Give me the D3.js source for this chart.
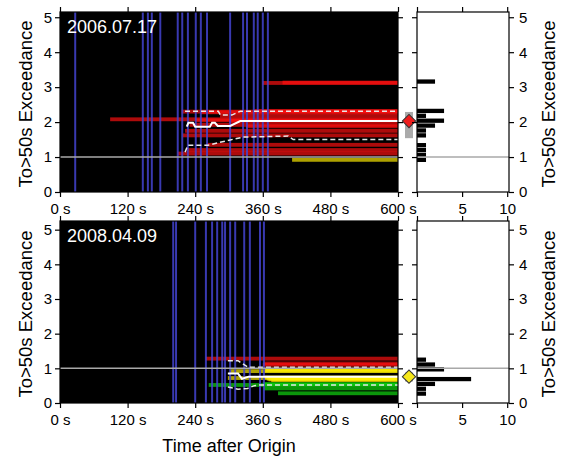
<!DOCTYPE html>
<html>
<head>
<meta charset="utf-8">
<script src="https://cdn.jsdelivr.net/npm/d3@7"></script>
<style>
body { margin: 0; background: #fff; }
</style>
</head>
<body>
<svg id="chart" width="563" height="459"></svg>
<script>
// ---- data ----
var timeTicks = [0, 120, 240, 360, 480, 600];
var valueTicks = [0, 1, 2, 3, 4, 5];
var countTicks = [0, 5, 10];
var binWidth = 0.14;
var threshold = 1;

// 2006.07.17
var dateTop = "2006.07.17";
var blueTop = [27, 147, 156, 163, 178, 209, 217, 227, 241, 250, 261, 302, 325, 332, 344, 351, 360, 369];
var startTop = [89, 209, 216, 218, 222, 225, 230, 240, 250, 262, 284, 300, 330, 345, 360, 395, 412];
var valueTop = [2.08, 1.10, 2.30, 1.62, 1.75, 1.20, 1.92, 2.05, 2.28, 1.35, 2.18, 2.03, 1.88, 2.32, 3.12, 3.13, 0.92];
var medTopT = [225, 228, 236, 240, 266, 270, 275, 280, 302, 320, 600];
var medTopV = [1.87, 1.98, 1.98, 1.87, 1.87, 1.98, 1.98, 1.89, 1.89, 2.03, 2.03];
var upTopT = [222, 281, 285, 305, 320, 600];
var upTopV = [2.31, 2.31, 2.20, 2.20, 2.31, 2.31];
var loTopT = [222, 227, 263, 302, 325, 405, 414, 600];
var loTopV = [1.14, 1.34, 1.34, 1.49, 1.57, 1.60, 1.50, 1.50];
var rangeTop = [1.54, 2.29];
var binStartTop = 0.85;

// 2008.04.09
var dateBottom = "2008.04.09";
var blueBottom = [201, 206, 240, 259, 270, 279, 288, 293, 302, 311, 327, 337, 355, 362];
var startBottom = [259, 360, 362, 302, 360, 365, 298, 367, 370, 362, 375, 380, 264, 360, 362, 387];
var valueBottom = [1.28, 1.10, 1.14, 0.92, 0.93, 0.96, 0.72, 0.70, 0.68, 0.74, 0.66, 0.71, 0.52, 0.55, 0.42, 0.28];
var medBotT = [298, 316, 323, 335, 600];
var medBotV = [0.85, 0.85, 0.70, 0.76, 0.76];
var upBotT = [298, 316, 334, 600];
var upBotV = [1.22, 1.22, 1.03, 1.03];
var loBotT = [298, 316, 333, 345, 355, 600];
var loBotV = [0.46, 0.40, 0.42, 0.50, 0.52, 0.52];
var rangeBottom = [0.62, 0.88];
var binStartBottom = 0.20;

var svg = d3.select("#chart");
var font = "'Liberation Sans', Arial, sans-serif";
svg.append("rect").attr("width", 563).attr("height", 459).attr("fill", "#fff");

var x = d3.scaleLinear().domain([0, 600]).range([60, 398]);
var xc = d3.scaleLinear().domain([0, 10.2]).range([417, 509]);

function barColor(v) {
  if (v >= 1) return "#ff1010";
  if (v >= 0.6) return "#ffee00";
  return "#10dd10";
}

function drawPanel(p) {
  var y = d3.scaleLinear().domain([0, p.yMax]).range([p.bottom, p.top]);
  var g = svg.append("g");
  var barH = 0.11;

  g.append("rect")
    .attr("x", 60).attr("y", p.top)
    .attr("width", 338).attr("height", p.bottom - p.top)
    .attr("fill", "#000");

  var stations = p.starts.map(function (s, i) { return { t: s, v: p.values[i] }; });
  g.selectAll(".bar").data(stations).enter().append("rect")
    .attr("x", function (d) { return x(d.t); })
    .attr("width", function (d) { return x(600) - x(d.t); })
    .attr("y", function (d) { return y(d.v + barH / 2); })
    .attr("height", function (d) { return y(d.v - barH / 2) - y(d.v + barH / 2); })
    .attr("fill", function (d) { return barColor(d.v); })
    .attr("opacity", 0.68);

  g.selectAll(".blue").data(p.blue).enter().append("line")
    .attr("x1", function (d) { return x(d); })
    .attr("x2", function (d) { return x(d); })
    .attr("y1", p.top).attr("y2", p.bottom)
    .attr("stroke", "#4444d0").attr("stroke-width", 2).attr("opacity", 0.85);

  var line = d3.line().x(function (d) { return x(d[0]); }).y(function (d) { return y(d[1]); });
  g.append("path").attr("d", line(d3.zip(p.upT, p.upV)))
    .attr("fill", "none").attr("stroke", "#e8e8e8").attr("stroke-width", 1.5).attr("stroke-dasharray", "5,3");
  g.append("path").attr("d", line(d3.zip(p.loT, p.loV)))
    .attr("fill", "none").attr("stroke", "#e8e8e8").attr("stroke-width", 1.5).attr("stroke-dasharray", "5,3");
  g.append("path").attr("d", line(d3.zip(p.medT, p.medV)))
    .attr("fill", "none").attr("stroke", "#fff").attr("stroke-width", 2);

  // histogram panel
  g.append("rect")
    .attr("x", 417).attr("y", p.top)
    .attr("width", 92).attr("height", p.bottom - p.top)
    .attr("fill", "#fff");

  var bins = d3.bin()
    .domain([p.binStart, 5])
    .thresholds(d3.range(p.binStart, 5, binWidth))(p.values)
    .filter(function (b) { return b.length > 0; });
  g.selectAll(".hist").data(bins).enter().append("rect")
    .attr("x", xc(0))
    .attr("width", function (b) { return xc(b.length) - xc(0); })
    .attr("y", function (b) { return y(b.x1) + 0.3; })
    .attr("height", function (b) { return y(b.x0) - y(b.x1) - 0.6; })
    .attr("fill", "#000");

  // threshold line
  [[60, 398], [417, 509]].forEach(function (r) {
    g.append("line")
      .attr("x1", r[0]).attr("x2", r[1])
      .attr("y1", y(threshold)).attr("y2", y(threshold))
      .attr("stroke", "#a8a8a8").attr("stroke-width", 1.5);
  });

  // frames
  g.append("rect").attr("x", 60).attr("y", p.top).attr("width", 338).attr("height", p.bottom - p.top)
    .attr("fill", "none").attr("stroke", "#000").attr("stroke-width", 1.2);
  g.append("rect").attr("x", 417).attr("y", p.top).attr("width", 92).attr("height", p.bottom - p.top)
    .attr("fill", "none").attr("stroke", "#000").attr("stroke-width", 1.2);

  // final range + diamond
  g.append("rect")
    .attr("x", 405).attr("width", 8)
    .attr("y", y(p.range[1])).attr("height", y(p.range[0]) - y(p.range[1]))
    .attr("fill", "#aaa");
  g.append("path")
    .attr("d", d3.symbol(d3.symbolSquare, 88)())
    .attr("transform", "translate(409," + y(p.medV[p.medV.length - 1]) + ") rotate(45)")
    .attr("fill", p.diamond).attr("stroke", "#333").attr("stroke-width", 1);

  function styleAxis(a) {
    a.select(".domain").remove();
    a.attr("font-size", 15).attr("font-family", font);
    a.selectAll("line").attr("stroke", "#000").attr("stroke-width", 1.2);
    a.selectAll("text").attr("fill", "#000");
  }
  var intFmt = d3.format("d");

  g.append("g").attr("transform", "translate(0," + p.bottom + ")")
    .call(d3.axisBottom(x).tickValues(timeTicks).tickSize(5).tickPadding(6)
      .tickFormat(function (d) { return d + " s"; }))
    .call(styleAxis);
  g.append("g").attr("transform", "translate(0," + p.top + ")")
    .call(d3.axisTop(x).tickValues(timeTicks).tickSize(5).tickFormat(""))
    .call(styleAxis);
  g.append("g").attr("transform", "translate(60,0)")
    .call(d3.axisLeft(y).tickValues(valueTicks).tickSize(5).tickPadding(3).tickFormat(intFmt))
    .call(styleAxis);
  g.append("g").attr("transform", "translate(398,0)")
    .call(d3.axisRight(y).tickValues(valueTicks).tickSize(5).tickFormat(""))
    .call(styleAxis);

  g.append("g").attr("transform", "translate(0," + p.bottom + ")")
    .call(d3.axisBottom(xc).tickValues(countTicks).tickSize(5).tickPadding(6)
      .tickFormat(function (d) { return d === 0 ? "" : d; }))
    .call(styleAxis);
  g.append("g").attr("transform", "translate(0," + p.top + ")")
    .call(d3.axisTop(xc).tickValues(countTicks).tickSize(5).tickFormat(""))
    .call(styleAxis);
  g.append("g").attr("transform", "translate(417,0)")
    .call(d3.axisLeft(y).tickValues(valueTicks).tickSize(5).tickFormat(""))
    .call(styleAxis);
  g.append("g").attr("transform", "translate(509,0)")
    .call(d3.axisRight(y).tickValues(valueTicks).tickSize(5).tickPadding(5).tickFormat(intFmt))
    .call(styleAxis);

  // labels
  g.append("text").attr("x", 67).attr("y", p.top + 21)
    .attr("fill", "#fff").attr("font-size", 18).attr("font-family", font)
    .text(p.date);
  var mid = (p.top + p.bottom) / 2 + 2;
  g.append("text").attr("transform", "translate(32," + mid + ") rotate(-90)")
    .attr("text-anchor", "middle").attr("font-size", 18.5).attr("font-family", font)
    .text("To>50s Exceedance");
  g.append("text").attr("transform", "translate(555," + mid + ") rotate(-90)")
    .attr("text-anchor", "middle").attr("font-size", 18.5).attr("font-family", font)
    .text("To>50s Exceedance");
}

drawPanel({
  top: 12, bottom: 192, yMax: 5.15, date: dateTop, blue: blueTop,
  starts: startTop, values: valueTop,
  medT: medTopT, medV: medTopV, upT: upTopT, upV: upTopV, loT: loTopT, loV: loTopV,
  range: rangeTop, binStart: binStartTop, diamond: "#ee1c1c"
});
drawPanel({
  top: 221, bottom: 403, yMax: 5.25, date: dateBottom, blue: blueBottom,
  starts: startBottom, values: valueBottom,
  medT: medBotT, medV: medBotV, upT: upBotT, upV: upBotV, loT: loBotT, loV: loBotV,
  range: rangeBottom, binStart: binStartBottom, diamond: "#f7e81c"
});

svg.append("text").attr("x", 229).attr("y", 452)
  .attr("text-anchor", "middle").attr("font-size", 18).attr("font-family", font)
  .text("Time after Origin");
</script>
</body>
</html>
